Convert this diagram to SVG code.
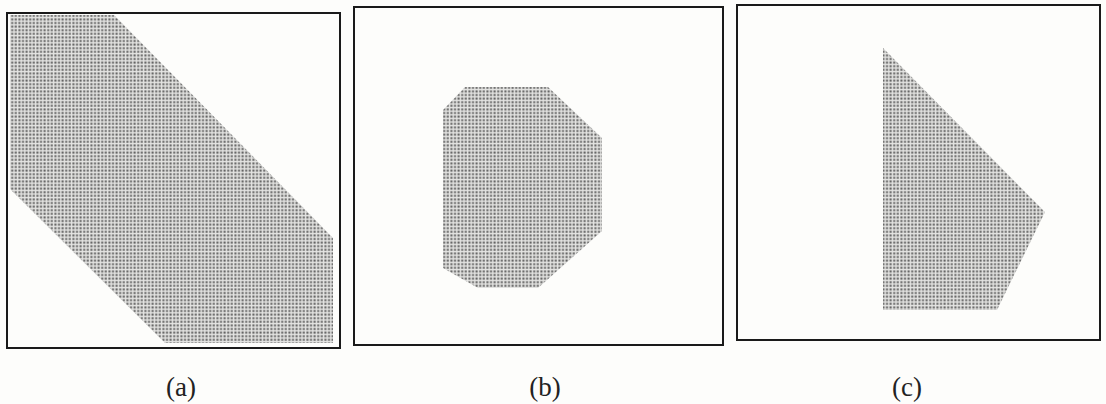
<svg xmlns="http://www.w3.org/2000/svg" width="1106" height="404" viewBox="0 0 1106 404">
  <style>
    .frame { fill: none; stroke: #1a1a1a; stroke-width: 2; }
    .shade { fill: url(#dots); }
    .label { font-family: "Liberation Serif", serif; font-size: 27px; fill: #222; text-anchor: middle; }
  </style>
  <defs>
    <pattern id="dots" patternUnits="userSpaceOnUse" width="3.6" height="3.6">
      <rect x="0" y="0" width="3.6" height="3.6" fill="#e4e4e2"/>
      <rect x="0.4" y="0.4" width="2" height="2" fill="#5e5e5e"/>
    </pattern>
  </defs>
  <rect x="0" y="0" width="1106" height="404" fill="#fdfdfb"/>
  <g id="panel-a">
    <polygon class="shade" points="10,15 114,15 333,238 333,343 165,343 10,189"/>
    <rect class="frame" x="7" y="13" width="333" height="335"/>
    <text class="label" x="181" y="396">(a)</text>
  </g>
  <g id="panel-b">
    <polygon class="shade" points="465,87 548,87 602,138 602,231 538,288 478,288 443,268 443,110"/>
    <rect class="frame" x="354" y="7" width="369" height="338"/>
    <text class="label" x="545" y="396">(b)</text>
  </g>
  <g id="panel-c">
    <polygon class="shade" points="883,48 1045,212 997,310 883,310"/>
    <rect class="frame" x="737" y="5" width="363" height="335"/>
    <text class="label" x="907" y="396">(c)</text>
  </g>
</svg>
